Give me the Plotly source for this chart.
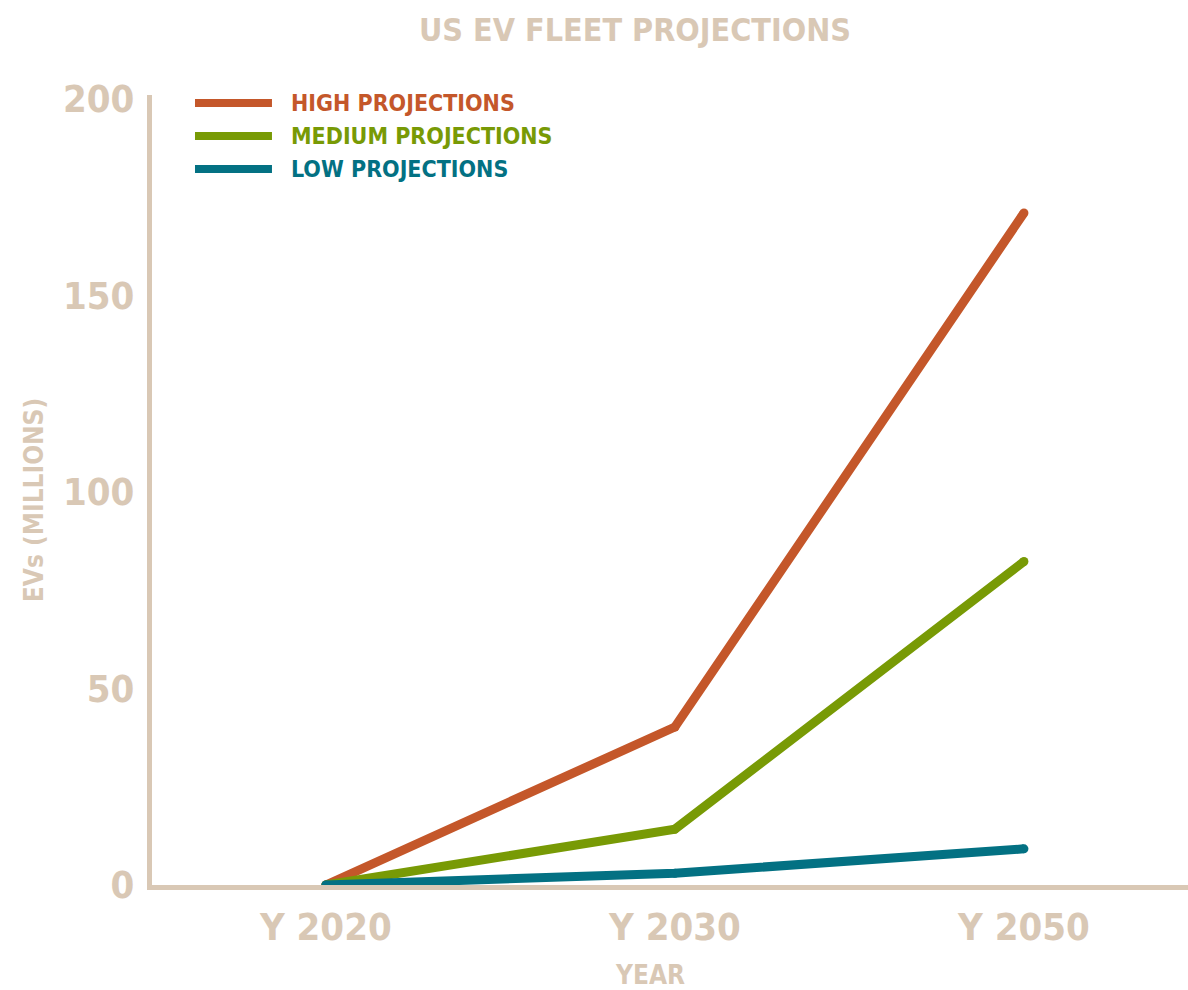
import plotly.graph_objects as go

years = ["Y 2020", "Y 2030", "Y 2050"]
series_names = ["HIGH PROJECTIONS", "MEDIUM PROJECTIONS", "LOW PROJECTIONS"]
high = [0, 40.2, 171.0]
medium = [0, 14.2, 82.3]
low = [0, 3.0, 9.2]
series_values = [high, medium, low]
colors = ["#C4572A", "#789A05", "#037183"]
y_ticks = [0, 50, 100, 150, 200]

BEIGE = "#D9C8B5"
FONT = "DejaVu Sans Condensed, Liberation Sans Narrow, Arial Narrow, sans-serif"

fig = go.Figure()
for name, vals, col in zip(series_names, series_values, colors):
    fig.add_trace(go.Scatter(x=years, y=vals, mode="lines+markers", name=name,
                             line=dict(color=col, width=9),
                             marker=dict(color=col, size=9, line=dict(width=0)),
                             showlegend=False, cliponaxis=False))

# manual legend
leg_y = [0.99, 0.948, 0.9063]
for name, col, yy in zip(series_names, colors, leg_y):
    fig.add_shape(type="line", xref="paper", yref="paper", x0=0.0415, x1=0.1158,
                  y0=yy, y1=yy, line=dict(color=col, width=8))
    fig.add_annotation(xref="paper", yref="paper", x=0.1322, y=yy, text="<b>%s</b>" % name,
                       showarrow=False, xanchor="left", yanchor="middle",
                       font=dict(family=FONT, size=23, color=col))

fig.add_annotation(xref="paper", yref="paper", x=-0.114, y=0.487, text="<b>EVs (MILLIONS)</b>",
                   textangle=-90, showarrow=False, xanchor="center", yanchor="middle",
                   font=dict(family=FONT, size=26, color=BEIGE))
fig.add_annotation(xref="paper", yref="paper", x=0.481, y=-0.114, text="<b>YEAR</b>",
                   showarrow=False, xanchor="center", yanchor="middle",
                   font=dict(family=FONT, size=26, color=BEIGE))

fig.update_layout(
    width=1188, height=990,
    margin=dict(l=152, r=0, t=95, b=105),
    paper_bgcolor="white", plot_bgcolor="white",
    title=dict(text="<b>US EV FLEET PROJECTIONS</b>", x=0.5345, y=0.97, xanchor="center", yanchor="middle",
               font=dict(family=FONT, size=32, color=BEIGE)),
    xaxis=dict(type="category", range=[-0.498, 2.47], showline=True, linecolor=BEIGE, linewidth=5,
               showgrid=False, zeroline=False, ticks="", ticklabelstandoff=4,
               tickfont=dict(family=FONT, size=38, color=BEIGE, weight="bold")),
    yaxis=dict(range=[0, 201], showline=True, linecolor=BEIGE, linewidth=5,
               showgrid=False, zeroline=False, ticks="", tickvals=y_ticks,
               ticklabelstandoff=5,
               tickfont=dict(family=FONT, size=38, color=BEIGE, weight="bold")),
)

fig.write_html("out.html")
